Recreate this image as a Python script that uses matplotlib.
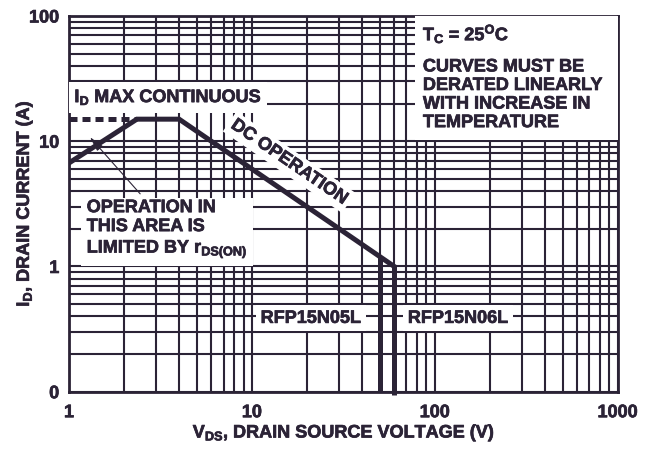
import numpy as np
import matplotlib
matplotlib.use('Agg')
import matplotlib.pyplot as plt
import matplotlib.patheffects as pe
from matplotlib.patches import Rectangle

plt.rcParams['font.family'] = 'Liberation Sans'
plt.rcParams['font.weight'] = 'bold'
plt.rcParams['mathtext.fontset'] = 'custom'
plt.rcParams['mathtext.rm'] = 'Liberation Sans:bold'
plt.rcParams['mathtext.it'] = 'Liberation Sans:bold'
plt.rcParams['mathtext.bf'] = 'Liberation Sans:bold'

INK = '#2b2336'
FS = 13
THICK = [pe.withStroke(linewidth=0.5, foreground=INK)]

# safe operating area boundary (V, A)
soa_v = [1, 2.35, 4, 60]
soa_i = [6.7, 15, 15, 1]
# ID max continuous (dashed)
idmax_v = [1, 2.35]
idmax_i = [15, 15]
# voltage limits for the two parts
bvdss_05 = [50, 50]
bvdss_05_i = [0.1, 1.2]
bvdss_06 = [60, 60]
bvdss_06_i = [0.094, 1.0]

x_ticks = [1, 10, 100, 1000]
x_labels = ['1', '10', '100', '1000']
y_ticks = [0.1, 1, 10, 100]
y_labels = ['0', '1', '10', '100']

fig = plt.figure(figsize=(6.54, 4.49), dpi=100)
ax = fig.add_axes([0.1055, 0.1276, 0.839, 0.8368])
ax.set_xscale('log')
ax.set_yscale('log')
ax.set_xlim(1, 1000)
ax.set_ylim(0.1, 100)

ax.grid(True, which='both', color=INK, linewidth=1.5, zorder=1)
ax.set_axisbelow(True)
ax.tick_params(which='both', length=0, labelsize=FS, colors=INK)
ax.tick_params(axis='x', pad=9)
ax.tick_params(axis='y', pad=7)
ax.set_xticks(x_ticks)
ax.set_xticklabels(x_labels, fontweight='bold')
ax.set_yticks(y_ticks)
ax.set_yticklabels(y_labels, fontweight='bold')
ax.minorticks_on()
ax.tick_params(which='minor', length=0, labelleft=False, labelbottom=False)
for lab in ax.get_xticklabels() + ax.get_yticklabels():
    lab.set_path_effects(THICK)
for s in ax.spines.values():
    s.set_color(INK)
    s.set_linewidth(2)

ax.set_xlabel(r'V$_\mathrm{DS}$, DRAIN SOURCE VOLTAGE (V)', fontsize=FS,
              color=INK, fontweight='bold', labelpad=1, path_effects=THICK)
ax.set_ylabel(r'I$_\mathrm{D}$, DRAIN CURRENT (A)', fontsize=FS,
              color=INK, fontweight='bold', path_effects=THICK)
ax.yaxis.set_label_coords(-0.062, 0.5)

# curves
ax.plot(soa_v, soa_i, color=INK, lw=3.6, solid_joinstyle='miter', zorder=5)
ax.plot(idmax_v, idmax_i, color=INK, lw=3.6, ls=(0, (1.6, 1.0)), zorder=5)
ax.plot(bvdss_05, bvdss_05_i, color=INK, lw=3.6, zorder=5, solid_capstyle='butt')
ax.plot(bvdss_06, bvdss_06_i, color=INK, lw=3.6, zorder=5, solid_capstyle='butt',
        clip_on=False)

ax.text(1.07, 22.5, r'I$_\mathrm{D}$ MAX CONTINUOUS', fontsize=FS, color=INK,
        fontweight='bold', va='center', ha='left', zorder=4, path_effects=THICK,
        bbox=dict(boxstyle='square,pad=0.3', fc='white', ec='none'))

ax.text(1.25, 1.96, 'OPERATION IN\nTHIS AREA IS\n' + r'LIMITED BY r$_\mathrm{DS(ON)}$',
        fontsize=FS, color=INK, fontweight='bold', va='center', ha='left',
        linespacing=1.15, zorder=4, path_effects=THICK,
        bbox=dict(boxstyle='square,pad=0.3', fc='white', ec='none'))

ax.annotate('', xy=(1.3, 10.8), xytext=(2.45, 3.8),
            arrowprops=dict(arrowstyle='-|>,head_length=0.9,head_width=0.22',
                            color=INK, lw=0.8, shrinkA=0, shrinkB=0), zorder=6)

ax.text(16, 6.8, 'DC OPERATION', fontsize=FS, color=INK, fontweight='bold',
        rotation=-34.4, rotation_mode='anchor', va='center', ha='center', zorder=4,
        path_effects=THICK,
        bbox=dict(boxstyle='square,pad=0.2', fc='white', ec='none'))

ax.text(21, 0.385, 'RFP15N05L', fontsize=FS, color=INK, fontweight='bold',
        va='center', ha='center', zorder=4, path_effects=THICK,
        bbox=dict(boxstyle='square,pad=0.25', fc='white', ec='none'))
ax.text(134, 0.385, 'RFP15N06L', fontsize=FS, color=INK, fontweight='bold',
        va='center', ha='center', zorder=4, path_effects=THICK,
        bbox=dict(boxstyle='square,pad=0.25', fc='white', ec='none'))

# note box, top right
ax.add_patch(Rectangle((0.63, 0.67), 0.37, 0.33, transform=ax.transAxes,
                       fc='white', ec='none', zorder=3))
ax.text(0.645, 0.953, r'T$_\mathrm{C}$ = 25$^\mathrm{O}$C', transform=ax.transAxes,
        fontsize=FS, color=INK, fontweight='bold', va='center', ha='left', zorder=4,
        path_effects=THICK)
ax.text(0.645, 0.887, 'CURVES MUST BE\nDERATED LINEARLY\nWITH INCREASE IN\nTEMPERATURE',
        transform=ax.transAxes, fontsize=FS, color=INK, fontweight='bold',
        va='top', ha='left', linespacing=1.12, zorder=4, path_effects=THICK)

fig.savefig('out.png', dpi=100)
